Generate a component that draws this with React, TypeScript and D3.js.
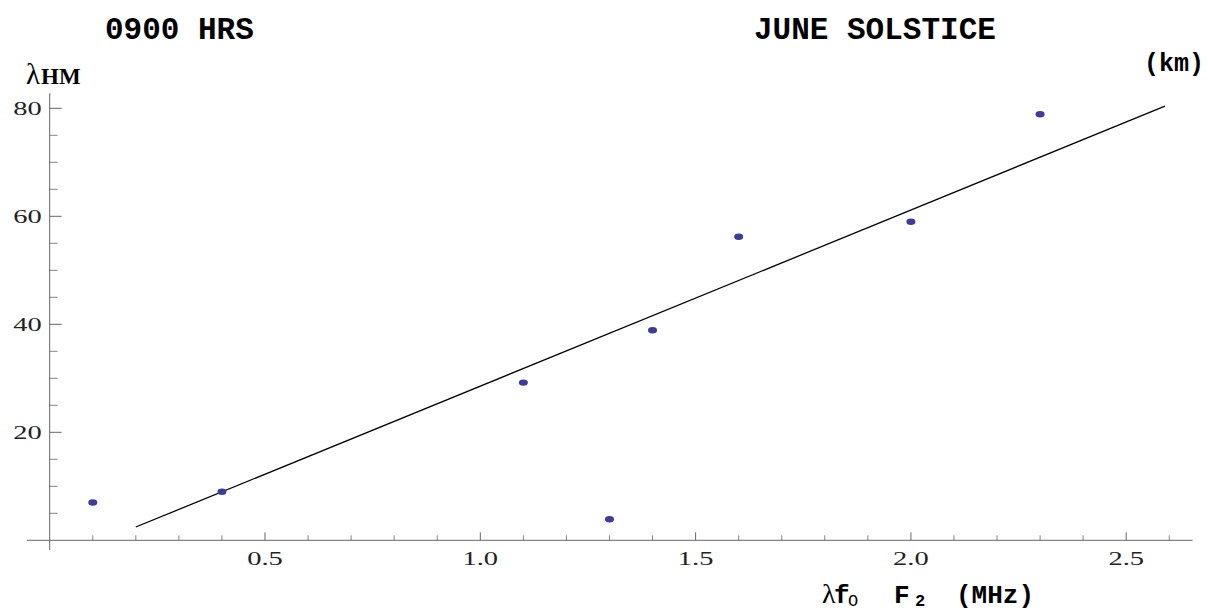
import * as d3 from 'd3';

// values
const pointX = [0.1, 0.4, 1.1, 1.3, 1.4, 1.6, 2.0, 2.3];
const pointY = [7, 9, 29.2, 3.9, 38.9, 56.2, 59, 78.9];
const fitX = [0.2, 2.59];
const fitY = [2.46, 80.4];
const xMajor = [0.5, 1.0, 1.5, 2.0, 2.5];
const xMinor = [0.1, 0.2, 0.3, 0.4, 0.6, 0.7, 0.8, 0.9, 1.1, 1.2, 1.3, 1.4, 1.6, 1.7, 1.8, 1.9, 2.1, 2.2, 2.3, 2.4, 2.6];
const yMajor = [20, 40, 60, 80];
const yMinor = [5, 10, 15, 25, 30, 35, 45, 50, 55, 65, 70, 75];
const xExtent = [-0.053, 2.654];
const yExtent = [-1.8, 82.8];

const width = 1208;
const height = 612;

const x = d3.scaleLinear().domain([0, 2.5]).range([49.7, 1126.2]);
const y = d3.scaleLinear().domain([0, 80]).range([540.3, 108.3]);

const axisColor = '#666';
const mono = '"Courier New", "Nimbus Mono PS", "Nimbus Mono L", FreeMono, "Liberation Mono", monospace';
const serif = '"Liberation Serif", "Times New Roman", serif';
const labelStretch = 1.5;

export default function App() {
    const line = d3.line<number>()
        .x((_, i) => x(fitX[i]))
        .y((_, i) => y(fitY[i]));

    return (
        <svg
            width={width}
            height={height}
            style={{ position: 'fixed', top: 0, left: 0, background: '#fff' }}
        >
            {/* titles */}
            <text x={105} y={39} fontFamily={mono} fontWeight="bold" fontSize={31} fill="#000">0900 HRS</text>
            <text x={754} y={39} fontFamily={mono} fontWeight="bold" fontSize={31} fill="#000">JUNE SOLSTICE</text>

            {/* axis labels */}
            <text x={26} y={84} fontFamily={serif} fill="#000">
                <tspan fontSize={29}>λ</tspan><tspan fontWeight="bold" fontSize={23} dx={1}>HM</tspan>
            </text>
            <text x={1144} y={71} fontFamily={mono} fontWeight="bold" fontSize={25} fill="#000">(km)</text>
            <text y={603} fontFamily={mono} fontWeight="bold" fontSize={26} fill="#000">
                <tspan x={822} fontFamily={serif} fontWeight="normal" fontSize={28}>λ</tspan>
                <tspan x={834}>f</tspan>
                <tspan x={848} fontSize={17} fontWeight="normal" dy={3}>O</tspan>
                <tspan x={894} dy={-3}>F</tspan>
                <tspan x={915} fontSize={17} dy={3}>2</tspan>
                <tspan x={956} dy={-3}>(MHz)</tspan>
            </text>

            {/* x axis */}
            <line x1={x(xExtent[0])} x2={x(xExtent[1])} y1={y(0)} y2={y(0)} stroke={axisColor} strokeWidth={1} />
            {xMajor.map(v => (
                <g key={'xM' + v}>
                    <line x1={x(v)} x2={x(v)} y1={y(0)} y2={y(0) - 8} stroke={axisColor} strokeWidth={1} />
                    <text
                        transform={`translate(${x(v)},${y(0) + 25}) scale(${labelStretch},1)`}
                        textAnchor="middle" fontFamily={serif} fontSize={19} fill="#222"
                    >
                        {v.toFixed(1)}
                    </text>
                </g>
            ))}
            {xMinor.map(v => (
                <line key={'xm' + v} x1={x(v)} x2={x(v)} y1={y(0)} y2={y(0) - 5} stroke={axisColor} strokeWidth={0.8} />
            ))}

            {/* y axis */}
            <line x1={x(0)} x2={x(0)} y1={y(yExtent[0])} y2={y(yExtent[1])} stroke={axisColor} strokeWidth={1} />
            {yMajor.map(v => (
                <g key={'yM' + v}>
                    <line x1={x(0)} x2={x(0) + 12} y1={y(v)} y2={y(v)} stroke={axisColor} strokeWidth={1} />
                    <text
                        transform={`translate(${x(0) - 8},${y(v) + 6.5}) scale(${labelStretch},1)`}
                        textAnchor="end" fontFamily={serif} fontSize={19} fill="#222"
                    >
                        {v}
                    </text>
                </g>
            ))}
            {yMinor.map(v => (
                <line key={'ym' + v} x1={x(0)} x2={x(0) + 8} y1={y(v)} y2={y(v)} stroke={axisColor} strokeWidth={0.8} />
            ))}

            {/* fitted line */}
            <path d={line(fitX) ?? ''} fill="none" stroke="#000" strokeWidth={1.3} />

            {/* data points */}
            {pointX.map((px, i) => (
                <ellipse key={'p' + i} cx={x(px)} cy={y(pointY[i])} rx={4.5} ry={3.2} fill="#3d3d99" />
            ))}
        </svg>
    );
}
